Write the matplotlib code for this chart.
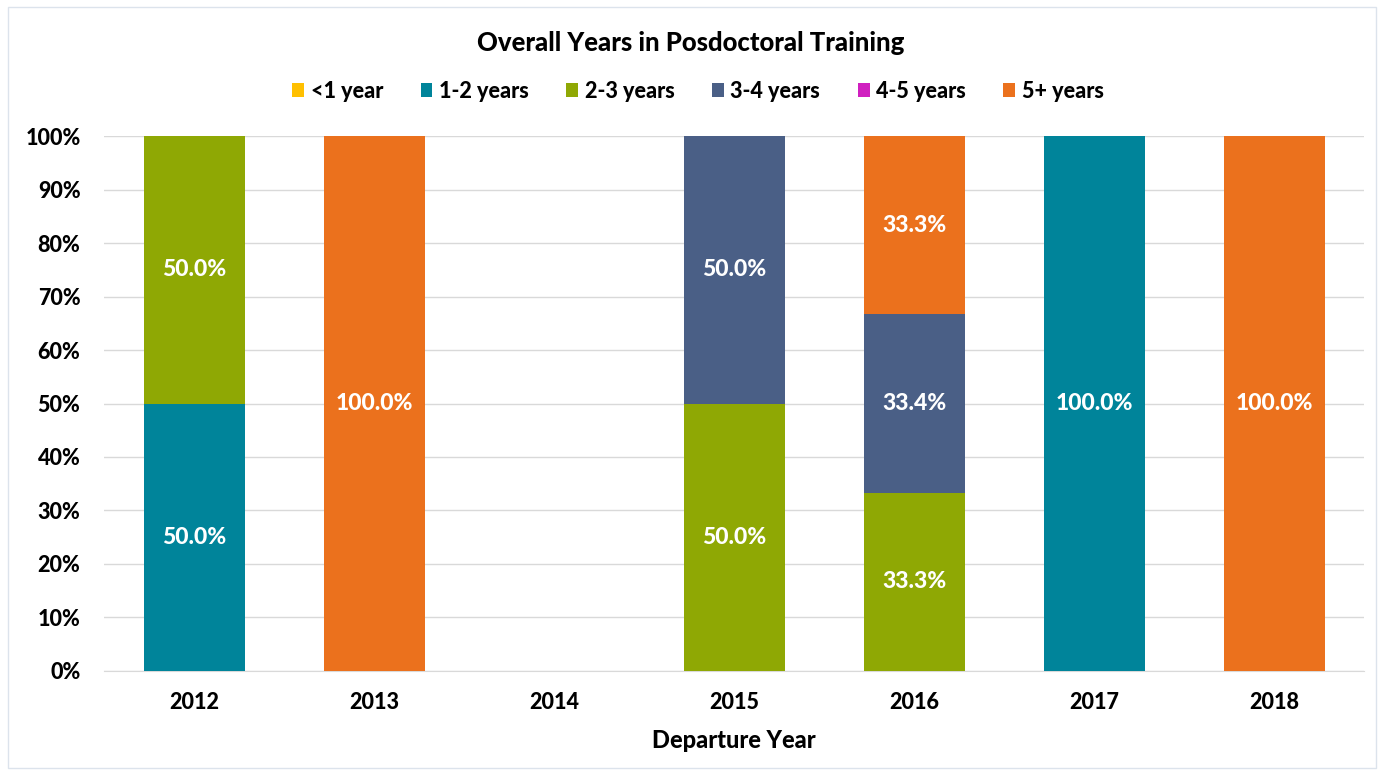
import matplotlib.pyplot as plt
import numpy as np
from matplotlib.patches import Rectangle

plt.rcParams['font.family'] = ['Lato', 'DejaVu Sans']

years = ['2012', '2013', '2014', '2015', '2016', '2017', '2018']
series = ['<1 year', '1-2 years', '2-3 years', '3-4 years', '4-5 years', '5+ years']
colors = ['#FFC000', '#00849A', '#8FA804', '#4A5F86', '#D020C0', '#EB711D']

lt1 = [0, 0, 0, 0, 0, 0, 0]
y1_2 = [50.0, 0, 0, 0, 0, 100.0, 0]
y2_3 = [50.0, 0, 0, 50.0, 33.3, 0, 0]
y3_4 = [0, 0, 0, 50.0, 33.4, 0, 0]
y4_5 = [0, 0, 0, 0, 0, 0, 0]
y5p = [0, 100.0, 0, 0, 33.3, 0, 100.0]
values = [lt1, y1_2, y2_3, y3_4, y4_5, y5p]

W = 'black'

fig = plt.figure(figsize=(13.82, 7.73), dpi=100)
fig.patches.append(Rectangle((0.006, 0.006), 0.99, 0.985, transform=fig.transFigure,
                             fill=False, edgecolor='#DCE3EC', linewidth=1))
ax = fig.add_axes([0.0753, 0.132, 0.912, 0.692])

x = np.arange(len(years))
bottom = np.zeros(len(years))
for name, vals, c in zip(series, values, colors):
    vals = np.array(vals)
    ax.bar(x, vals, 0.56, bottom=bottom, color=c, label=name, zorder=3)
    for xi, v, b in zip(x, vals, bottom):
        if v > 0:
            ax.text(xi, b + v / 2, f'{v:.1f}%', ha='center', va='center',
                    color='white', fontsize=16.5, fontweight=W, zorder=4)
    bottom += vals

ax.set_xlim(-0.5, len(years) - 0.5)
ax.set_ylim(0, 100)
ax.set_yticks(np.arange(0, 101, 10))
ax.set_yticklabels([f'{v}%' for v in range(0, 101, 10)])
ax.set_xticks(x)
ax.set_xticklabels(years)
ax.tick_params(axis='y', length=0, labelsize=15.5, pad=17)
ax.tick_params(axis='x', length=0, labelsize=15.5, pad=15)
for lab in ax.get_xticklabels() + ax.get_yticklabels():
    lab.set_fontweight(W)
ax.yaxis.grid(True, color='#D9D9D9', linewidth=1, zorder=0)
for s in ['top', 'right', 'left']:
    ax.spines[s].set_visible(False)
ax.spines['bottom'].set_color('#D9D9D9')
ax.set_xlabel('Departure Year', fontsize=17, fontweight=W, labelpad=12)

fig.text(0.5, 0.945, 'Overall Years in Posdoctoral Training', ha='center', va='center',
         fontsize=18.5, fontweight=W)
fig.legend(loc='center', bbox_to_anchor=(0.505, 0.882), ncol=6, frameon=False,
           handlelength=0.55, handleheight=0.6, handletextpad=0.3,
           columnspacing=1.75, prop={'weight': W, 'size': 15.5})

fig.savefig('out.png', dpi=100)
